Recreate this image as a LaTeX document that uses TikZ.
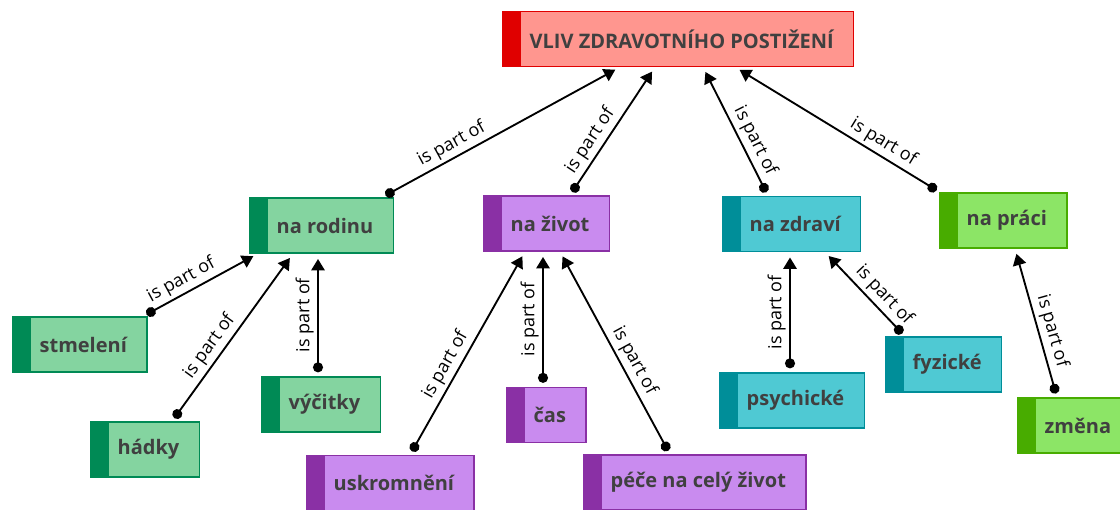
\documentclass[tikz,border=0pt]{standalone}
\usepackage{fontspec}
\setmainfont{Open Sans}
\usetikzlibrary{arrows.meta, positioning}
\definecolor{redfill}{HTML}{FF968F}
\definecolor{reddark}{HTML}{E00000}
\definecolor{greenfill}{HTML}{84D4A0}
\definecolor{greendark}{HTML}{008A55}
\definecolor{purplefill}{HTML}{C98BEF}
\definecolor{purpledark}{HTML}{8A30A5}
\definecolor{tealfill}{HTML}{4FC9D3}
\definecolor{tealdark}{HTML}{008E99}
\definecolor{limefill}{HTML}{8CE566}
\definecolor{limedark}{HTML}{48AC00}
\definecolor{textgray}{HTML}{404040}
\tikzset{
        ispart/.style={{Circle[length=7.5pt]}-{Triangle[length=8.5pt,width=10pt]}, line width=1.4pt, shorten <=3pt, shorten >=4pt}, % dot at the part, arrow at the whole
        lbl/.style={above, sloped, inner sep=2.5pt, font=\fontsize{13.5}{16}\selectfont}, % text on a connector
        topic/.style 2 args={anchor=west, draw=#2, fill=#1, line width=1pt, minimum height=41.25pt, inner xsep=15pt,
            text=textgray, font=\bfseries\fontsize{15}{18}\selectfont, execute at begin node=\hspace{5.25pt},
            path picture={\fill[#2] (path picture bounding box.north west) rectangle ([xshift=13.5pt]path picture bounding box.south west);}}, % box with a dark strip on the left
    }
\begin{document}
\begin{tikzpicture}[x=0.75pt, y=-0.75pt]
    \useasboundingbox (0,0) rectangle (1120,510);
    \node[topic={redfill}{reddark}] (vliv) at (502,39) {VLIV ZDRAVOTNÍHO POSTIŽENÍ};
    \node[topic={greenfill}{greendark}] (rodinu) at (249,225.5) {na rodinu};
    \node[topic={purplefill}{purpledark}] (zivot) at (483,223.5) {na život};
    \node[topic={tealfill}{tealdark}] (zdravi) at (722,224) {na zdraví};
    \node[topic={limefill}{limedark}] (praci) at (939,220.5) {na práci};
    \node[topic={greenfill}{greendark}] (stmeleni) at (12,344.5) {stmelení};
    \node[topic={greenfill}{greendark}] (hadky) at (90,449.5) {hádky};
    \node[topic={greenfill}{greendark}] (vycitky) at (261,404.5) {výčitky};
    \node[topic={purplefill}{purpledark}] (uskromneni) at (306,483) {uskromnění};
    \node[topic={purplefill}{purpledark}] (cas) at (506,415) {čas};
    \node[topic={purplefill}{purpledark}] (pece) at (583,482.5) {péče na celý život};
    \node[topic={tealfill}{tealdark}] (psychicke) at (719,400.5) {psychické};
    \node[topic={tealfill}{tealdark}] (fyzicke) at (885,364.5) {fyzické};
    \node[topic={limefill}{limedark}] (zmena) at (1017,425.5) {změna};
    \draw ([shift={(133,0)}]rodinu.north west) edge[ispart] node[lbl, pos=.32] {is part of} ([shift={(118,0)}]vliv.south west)
          ([shift={(87,0)}]zivot.north west) edge[ispart] node[lbl, pos=.37] {is part of} ([shift={(153,0)}]vliv.south west)
          ([shift={(46,0)}]zdravi.north west) edge[ispart] node[lbl, pos=.38] {is part of} ([shift={(201,0)}]vliv.south west)
          ([shift={(1,0)}]praci.north west) edge[ispart] node[lbl, pos=.31] {is part of} ([shift={(233,0)}]vliv.south west)
          ([shift={(131,0)}]stmeleni.north west) edge[ispart] node[lbl, pos=.39] {is part of} ([shift={(9,0)}]rodinu.south west)
          ([shift={(82,0)}]hadky.north west) edge[ispart] node[lbl, pos=.4] {is part of} ([shift={(44,0)}]rodinu.south west)
          ([shift={(57,0)}]vycitky.north west) edge[ispart] node[lbl, pos=.5] {is part of} ([shift={(69,0)}]rodinu.south west)
          ([shift={(104,0)}]uskromneni.north west) edge[ispart] node[lbl, pos=.41] {is part of} ([shift={(42,0)}]zivot.south west)
          ([shift={(37,0)}]cas.north west) edge[ispart] node[lbl, pos=.5] {is part of} ([shift={(60,0)}]zivot.south west)
          ([shift={(87,0)}]pece.north west) edge[ispart] node[lbl, pos=.43] {is part of} ([shift={(77,0)}]zivot.south west)
          ([shift={(71,0)}]psychicke.north west) edge[ispart] node[lbl, pos=.5] {is part of} ([shift={(68,0)}]zdravi.south west)
          ([shift={(20,0)}]fyzicke.north west) edge[ispart] node[lbl, pos=.38] {is part of} ([shift={(103,0)}]zdravi.south west)
          ([shift={(40,0)}]zmena.north west) edge[ispart] node[lbl, pos=.42] {is part of} ([shift={(76,0)}]praci.south west);
\end{tikzpicture}
\end{document}
